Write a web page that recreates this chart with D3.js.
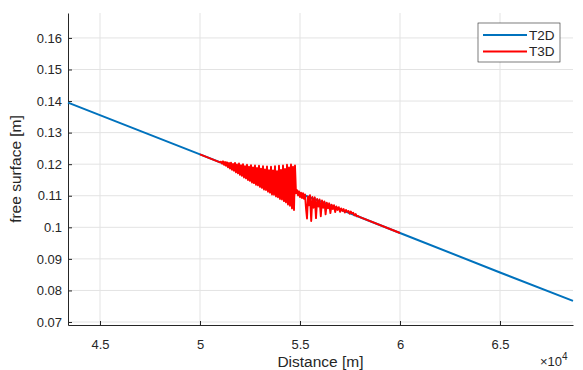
<!DOCTYPE html>
<html>
<head>
<meta charset="utf-8">
<script src="https://cdn.jsdelivr.net/npm/d3@7"></script>
<style>
  body { margin: 0; background: #fff; }
  text { font-family: Arial, "Liberation Sans", sans-serif; fill: #262626; }
</style>
</head>
<body>
<script>
const margin = { top: 13, right: 10, bottom: 45, left: 68 };
const width  = 583 - margin.left - margin.right;
const height = 370 - margin.top - margin.bottom;

// axis ticks
const xTicks = [45000, 50000, 55000, 60000, 65000];
const xTickLabels = ['4.5', '5', '5.5', '6', '6.5'];
const yTicks = [0.07, 0.08, 0.09, 0.1, 0.11, 0.12, 0.13, 0.14, 0.15, 0.16];
const yTickLabels = ['0.07', '0.08', '0.09', '0.1', '0.11', '0.12', '0.13', '0.14', '0.15', '0.16'];

// series: [distance m, free surface m]
const t2d = [
  [43400, 0.1395], [50000, 0.1231], [55000, 0.1107],
  [60000, 0.0982], [65000, 0.0857], [68650, 0.0767],
];

const t3d = [
  [50000, 0.1231], [51000, 0.1206], [51050, 0.1208], [51100, 0.1202],
  [51150, 0.1209], [51200, 0.1198], [51250, 0.1207], [51300, 0.1195],
  [51350, 0.1206], [51400, 0.1190], [51450, 0.1204], [51500, 0.1186],
  [51550, 0.1205], [51600, 0.1182], [51650, 0.1201], [51700, 0.1179],
  [51750, 0.1204], [51800, 0.1174], [51850, 0.1199], [51900, 0.1171],
  [51950, 0.1202], [52000, 0.1166], [52050, 0.1197], [52100, 0.1163],
  [52150, 0.1200], [52200, 0.1158], [52250, 0.1194], [52300, 0.1155],
  [52350, 0.1198], [52400, 0.1150], [52450, 0.1192], [52500, 0.1147],
  [52550, 0.1197], [52600, 0.1142], [52650, 0.1190], [52700, 0.1140],
  [52750, 0.1196], [52800, 0.1135], [52850, 0.1188], [52900, 0.1133],
  [52950, 0.1195], [53000, 0.1128], [53050, 0.1186], [53100, 0.1125],
  [53150, 0.1194], [53200, 0.1120], [53250, 0.1183], [53300, 0.1118],
  [53350, 0.1193], [53400, 0.1113], [53450, 0.1181], [53500, 0.1110],
  [53550, 0.1192], [53600, 0.1104], [53650, 0.1180], [53700, 0.1103],
  [53750, 0.1194], [53800, 0.1098], [53850, 0.1178], [53900, 0.1095],
  [53950, 0.1195], [54000, 0.1090], [54050, 0.1182], [54100, 0.1088],
  [54150, 0.1196], [54200, 0.1083], [54250, 0.1185], [54300, 0.1079],
  [54350, 0.1198], [54400, 0.1072], [54450, 0.1190], [54500, 0.1068],
  [54550, 0.1199], [54600, 0.1060], [54650, 0.1192], [54700, 0.1055],
  [54750, 0.1196], [54800, 0.1108], [54850, 0.1118], [54900, 0.1101],
  [54950, 0.1114], [55000, 0.1096], [55050, 0.1110], [55100, 0.1093],
  [55150, 0.1108], [55200, 0.1090], [55250, 0.1104], [55300, 0.1060],
  [55350, 0.1028], [55400, 0.1098], [55450, 0.1070], [55500, 0.1102],
  [55560, 0.1020], [55620, 0.1096], [55680, 0.1062], [55740, 0.1095],
  [55800, 0.1029], [55860, 0.1090], [55920, 0.1066], [55980, 0.1088],
  [56040, 0.1035], [56100, 0.1085], [56160, 0.1062], [56220, 0.1082],
  [56280, 0.1041], [56340, 0.1078], [56400, 0.1060], [56460, 0.1076],
  [56520, 0.1045], [56580, 0.1072], [56640, 0.1058], [56700, 0.1070],
  [56760, 0.1048], [56820, 0.1066], [56880, 0.1055], [56940, 0.1064],
  [57000, 0.1049], [57060, 0.1060], [57120, 0.1052], [57180, 0.1058],
  [57240, 0.1047], [57300, 0.1055], [57360, 0.1049], [57420, 0.1052],
  [57480, 0.1043], [57540, 0.1050], [57600, 0.1044], [57660, 0.1046],
  [57720, 0.1038], [57780, 0.1042], [57840, 0.1035], [57900, 0.1036],
  [58000, 0.1032], [60000, 0.0982],
];

const seriesNames = ['T2D', 'T3D'];
const seriesColors = ['#0072BD', '#FF0000'];
const seriesWidths = [2, 1.9];

const x = d3.scaleLinear().domain([43400, 68650]).range([0, width]);
const y = d3.scaleLinear().domain([0.06905, 0.1679]).range([height, 0]);

const svg = d3.select('body').append('svg')
      .attr('width', 583)
      .attr('height', 370)
      .append('g')
      .attr('transform', 'translate(' + margin.left + ',' + margin.top + ')');

// grid
svg.append('g').selectAll('line')
      .data(xTicks)
      .enter().append('line')
      .attr('x1', d => x(d)).attr('x2', d => x(d))
      .attr('y1', 0).attr('y2', height)
      .attr('stroke', '#e3e3e3');

svg.append('g').selectAll('line')
      .data(yTicks)
      .enter().append('line')
      .attr('x1', 0).attr('x2', width)
      .attr('y1', d => y(d)).attr('y2', d => y(d))
      .attr('stroke', '#e3e3e3');

// axes, ticks point inward like matlab
const xAxis = d3.axisBottom(x)
      .tickValues(xTicks)
      .tickFormat((d, i) => xTickLabels[i])
      .tickSizeInner(-4)
      .tickSizeOuter(0)
      .tickPadding(15);

const yAxis = d3.axisLeft(y)
      .tickValues(yTicks)
      .tickFormat((d, i) => yTickLabels[i])
      .tickSizeInner(-4)
      .tickSizeOuter(0)
      .tickPadding(6);

const gx = svg.append('g')
      .attr('transform', 'translate(0,' + height + ')')
      .call(xAxis);

const gy = svg.append('g').call(yAxis);

[gx, gy].forEach(g => {
  g.select('.domain').attr('stroke', '#262626');
  g.selectAll('.tick line').attr('stroke', '#262626');
  g.selectAll('.tick text')
      .style('font-family', 'Arial, "Liberation Sans", sans-serif')
      .style('font-size', '13px')
      .attr('fill', '#262626');
});

// lines
const line = d3.line()
      .x(d => x(d[0]))
      .y(d => y(d[1]));

[t2d, t3d].forEach((s, i) => {
  svg.append('path')
      .datum(s)
      .attr('d', line)
      .attr('fill', 'none')
      .attr('stroke', seriesColors[i])
      .attr('stroke-width', seriesWidths[i])
      .attr('stroke-linejoin', 'round');
});

// labels
svg.append('text')
      .attr('x', width / 2)
      .attr('y', height + 42)
      .attr('text-anchor', 'middle')
      .style('font-size', '15.5px')
      .text('Distance [m]');

svg.append('text')
      .attr('transform', 'translate(' + (-47) + ',' + (height / 2) + ') rotate(-90)')
      .attr('text-anchor', 'middle')
      .style('font-size', '15.5px')
      .text('free surface [m]');

const expo = svg.append('text')
      .attr('x', 472)
      .attr('y', height + 41)
      .style('font-size', '13px');
expo.append('tspan').text('\u00d710');
expo.append('tspan')
      .attr('dy', -6)
      .style('font-size', '10px')
      .text('4');

// legend
const legend = svg.append('g')
      .attr('transform', 'translate(' + (478 - margin.left) + ',' + (23 - margin.top) + ')');

legend.append('rect')
      .attr('width', 82)
      .attr('height', 39)
      .attr('fill', '#fff')
      .attr('stroke', '#262626')
      .attr('stroke-width', 0.6);

seriesNames.forEach((name, i) => {
  const ly = 12 + i * 16.5;
  legend.append('line')
      .attr('x1', 5).attr('x2', 49)
      .attr('y1', ly).attr('y2', ly)
      .attr('stroke', seriesColors[i])
      .attr('stroke-width', seriesWidths[i]);
  legend.append('text')
      .attr('x', 51)
      .attr('y', ly + 4.8)
      .style('font-size', '13.5px')
      .text(name);
});
</script>
</body>
</html>
